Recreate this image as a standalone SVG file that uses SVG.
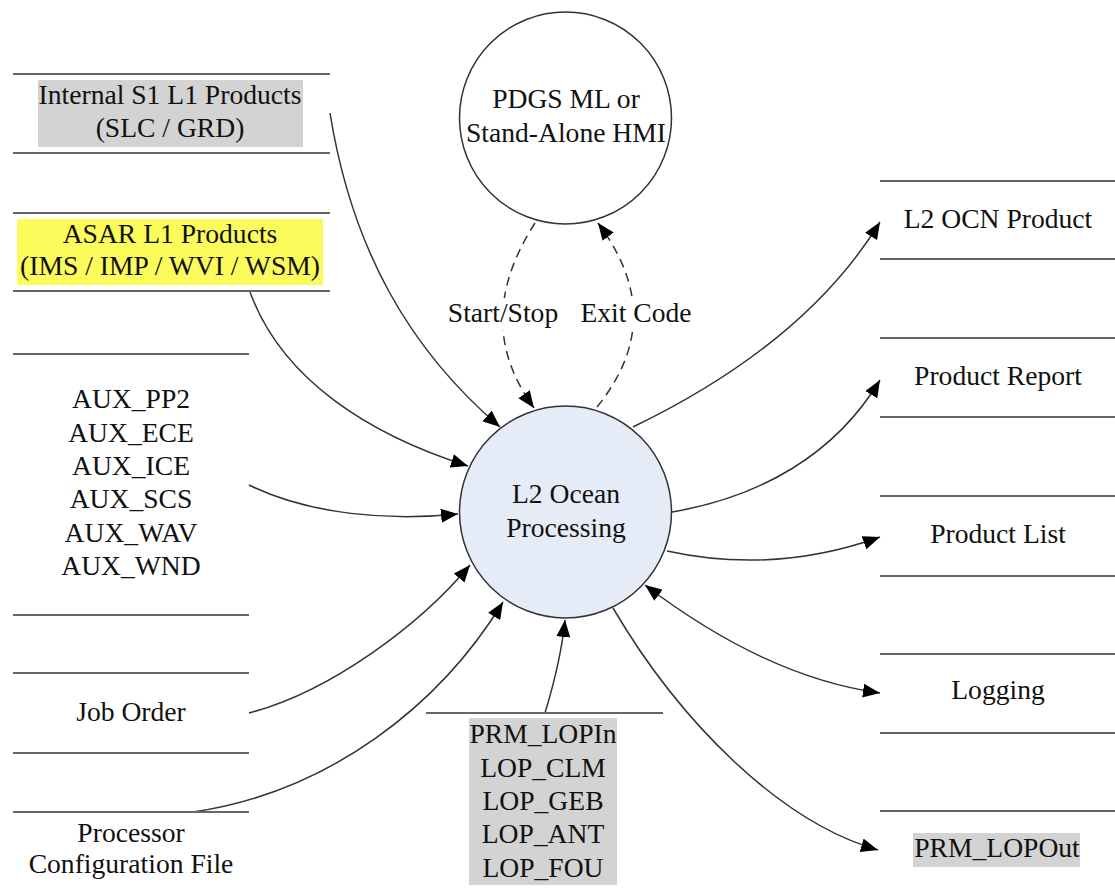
<svg xmlns="http://www.w3.org/2000/svg" width="1115" height="888" viewBox="0 0 1115 888">
<style>
text{font-family:"Liberation Serif","Times New Roman",serif;font-size:27.6px;fill:#111;text-anchor:middle}
.store{stroke:#666;stroke-width:2}
.conn{fill:none;stroke:#333;stroke-width:1.5}
.dash{stroke-dasharray:9 6}
.hl{fill:#d3d3d3}
</style>
<defs>
<marker id="arr" markerUnits="userSpaceOnUse" markerWidth="18" markerHeight="14" refX="17" refY="7" orient="auto-start-reverse">
<path d="M0,0 L17,7 L0,14 z" fill="#000"/>
</marker>
</defs>
<rect width="1115" height="888" fill="#fff"/>

<g id="connectors">
<path class="conn" d="M330,113 C352,250 410,350 500,427" marker-end="url(#arr)"/>
<path class="conn" d="M250,292 C282,380 370,435 468,466" marker-end="url(#arr)"/>
<path class="conn" d="M249,485 C310,515 390,521 458,514" marker-end="url(#arr)"/>
<path class="conn" d="M249,713 C330,692 420,625 470,565" marker-end="url(#arr)"/>
<path class="conn" d="M193,812 C330,792 440,705 503,602" marker-end="url(#arr)"/>
<path class="conn" d="M545,713 C555,680 562,650 565,620" marker-end="url(#arr)"/>
<path class="conn" d="M633,427 C720,385 820,320 880,222" marker-end="url(#arr)"/>
<path class="conn" d="M672,512 C760,497 835,455 880,380" marker-end="url(#arr)"/>
<path class="conn" d="M667,551 C740,567 810,562 880,537" marker-end="url(#arr)"/>
<path class="conn" d="M645,585 C720,642 800,682 880,693" marker-start="url(#arr)" marker-end="url(#arr)"/>
<path class="conn" d="M613,608 C680,722 780,822 878,850" marker-end="url(#arr)"/>
<path class="conn dash" d="M535,223 C492,290 492,350 534,408" marker-end="url(#arr)"/>
<path class="conn dash" d="M597,407 C643,350 648,290 598,223" marker-end="url(#arr)"/>
<rect x="448" y="298" width="112" height="32" fill="#fff"/>
<rect x="578" y="298" width="115" height="32" fill="#fff"/>
<text x="503" y="322">Start/Stop</text>
<text x="636" y="322">Exit Code</text>
</g>

<g id="node-internal-s1">
<line class="store" x1="13" y1="74" x2="330" y2="74"/>
<line class="store" x1="13" y1="153" x2="330" y2="153"/>
<rect class="hl" x="38" y="80" width="265" height="67"/>
<text x="170" y="104">Internal S1 L1 Products</text>
<text x="170" y="137">(SLC / GRD)</text>
</g>

<g id="node-asar">
<line class="store" x1="13" y1="213" x2="330" y2="213"/>
<line class="store" x1="13" y1="291" x2="330" y2="291"/>
<rect x="17" y="219" width="306" height="66" fill="#fbfb5c"/>
<text x="170" y="243">ASAR L1 Products</text>
<text x="170" y="275">(IMS / IMP / WVI / WSM)</text>
</g>

<g id="node-aux">
<line class="store" x1="13" y1="354" x2="249" y2="354"/>
<line class="store" x1="13" y1="615" x2="249" y2="615"/>
<text x="131" y="408">AUX_PP2</text>
<text x="131" y="442">AUX_ECE</text>
<text x="131" y="475">AUX_ICE</text>
<text x="131" y="508">AUX_SCS</text>
<text x="131" y="542">AUX_WAV</text>
<text x="131" y="575">AUX_WND</text>
</g>

<g id="node-job-order">
<line class="store" x1="13" y1="673" x2="249" y2="673"/>
<line class="store" x1="13" y1="753" x2="249" y2="753"/>
<text x="131" y="721">Job Order</text>
</g>

<g id="node-processor-config">
<line class="store" x1="13" y1="812" x2="249" y2="812"/>
<text x="131" y="842">Processor</text>
<text x="131" y="873">Configuration File</text>
</g>

<g id="node-hmi">
<circle cx="565.5" cy="118" r="106" fill="#fff" stroke="#333" stroke-width="1.5"/>
<text x="566" y="108">PDGS ML or</text>
<text x="566" y="142">Stand-Alone HMI</text>
</g>

<g id="node-l2-ocean">
<circle cx="565.5" cy="512" r="106" fill="#e6ecf7" stroke="#333" stroke-width="1.5"/>
<text x="566" y="503">L2 Ocean</text>
<text x="566" y="537">Processing</text>
</g>

<g id="node-lop">
<line class="store" x1="426" y1="713" x2="663" y2="713"/>
<rect class="hl" x="469" y="718" width="148" height="167"/>
<text x="543" y="743">PRM_LOPIn</text>
<text x="543" y="777">LOP_CLM</text>
<text x="543" y="810">LOP_GEB</text>
<text x="543" y="843">LOP_ANT</text>
<text x="543" y="877">LOP_FOU</text>
</g>

<g id="node-l2-ocn">
<line class="store" x1="880" y1="181" x2="1115" y2="181"/>
<line class="store" x1="880" y1="259" x2="1115" y2="259"/>
<text x="998" y="228">L2 OCN Product</text>
</g>

<g id="node-product-report">
<line class="store" x1="880" y1="338" x2="1115" y2="338"/>
<line class="store" x1="880" y1="417" x2="1115" y2="417"/>
<text x="998" y="385">Product Report</text>
</g>

<g id="node-product-list">
<line class="store" x1="880" y1="496" x2="1115" y2="496"/>
<line class="store" x1="880" y1="576" x2="1115" y2="576"/>
<text x="998" y="543">Product List</text>
</g>

<g id="node-logging">
<line class="store" x1="880" y1="654" x2="1115" y2="654"/>
<line class="store" x1="880" y1="733" x2="1115" y2="733"/>
<text x="998" y="699">Logging</text>
</g>

<g id="node-prm-lopout">
<line class="store" x1="880" y1="811" x2="1115" y2="811"/>
<rect class="hl" x="913" y="833" width="167" height="34"/>
<text x="997" y="857">PRM_LOPOut</text>
</g>
</svg>
